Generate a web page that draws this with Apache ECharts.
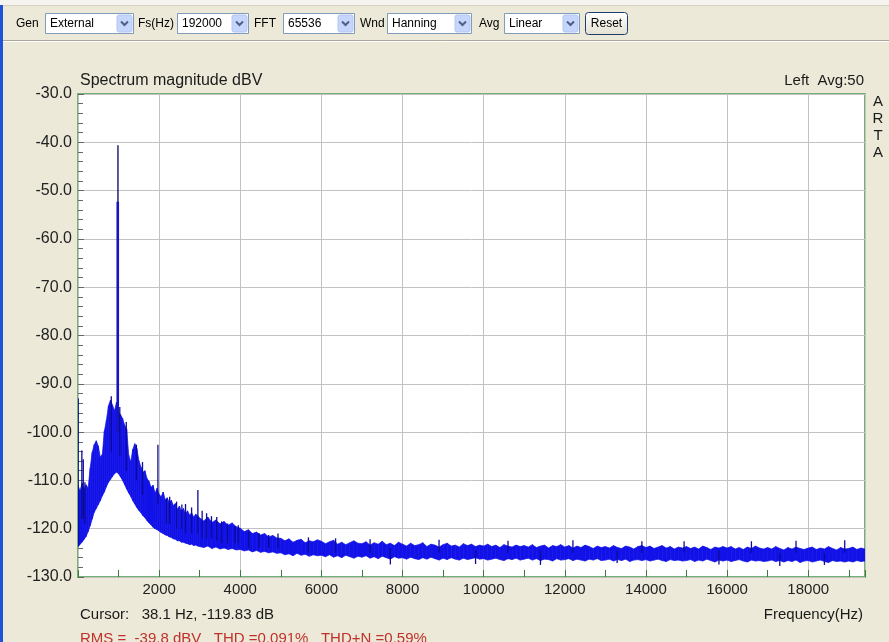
<!DOCTYPE html>
<html>
<head>
<meta charset="utf-8">
<script src="https://cdn.jsdelivr.net/npm/echarts@6/dist/echarts.min.js"></script>
<style>
html,body{margin:0;padding:0;background:#ece9d8;overflow:hidden;}
#chart{width:889px;height:642px;}
</style>
</head>
<body>
<div id="chart"></div>
<script>
// ---------------- DATA ----------------
const xTickLabels = ['2000','4000','6000','8000','10000','12000','14000','16000','18000'];
const yTickLabels = ['-130.0','-120.0','-110.0','-100.0','-90.0','-80.0','-70.0','-60.0','-50.0','-40.0','-30.0'];

// noise band: frequency (Hz), upper and lower edge (dBV)
const bandFreq = [
  0,50,100,150,200,250,300,350,400,450,500,550,600,650,700,750,800,850,900,950,
  1000,1050,1100,1150,1200,1250,1300,1350,1400,1450,1500,1550,1600,1650,1700,1750,1800,1850,1900,1950,
  2000,2050,2100,2150,2200,2250,2300,2350,2400,2450,2500,2550,2600,2650,2700,2750,2800,2850,2900,2950,
  3000,3100,3200,3300,3400,3500,3600,3700,3800,3900,
  4000,4100,4200,4300,4400,4500,4600,4700,4800,4900,
  5000,5100,5200,5300,5400,5500,5600,5700,5800,5900,
  6000,6100,6200,6300,6400,6500,6600,6700,6800,6900,
  7000,7100,7200,7300,7400,7500,7600,7700,7800,7900,
  8000,8100,8200,8300,8400,8500,8600,8700,8800,8900,
  9000,9100,9200,9300,9400,9500,9600,9700,9800,9900,
  10000,10100,10200,10300,10400,10500,10600,10700,10800,10900,
  11000,11100,11200,11300,11400,11500,11600,11700,11800,11900,
  12000,12100,12200,12300,12400,12500,12600,12700,12800,12900,
  13000,13100,13200,13300,13400,13500,13600,13700,13800,13900,
  14000,14100,14200,14300,14400,14500,14600,14700,14800,14900,
  15000,15100,15200,15300,15400,15500,15600,15700,15800,15900,
  16000,16100,16200,16300,16400,16500,16600,16700,16800,16900,
  17000,17100,17200,17300,17400,17500,17600,17700,17800,17900,
  18000,18100,18200,18300,18400,18500,18600,18700,18800,18900,
  19000,19100,19200,19300,19400
];
const bandHigh = [
  -111.0,-112.2,-110.6,-111.8,-110.9,-111.6,-107.5,-104.2,-102.6,-101.8,-102.9,-105.2,-104.6,-99.8,-97.6,-94.6,-93.4,-94.4,-95.6,-93.8,
  -95.8,-96.4,-97.2,-98.6,-99.4,-104.8,-106.2,-103.6,-102.4,-103.4,-105.9,-107.2,-108.3,-108.0,-109.6,-110.2,-111.4,-111.0,-112.6,-111.6,
  -112.9,-113.4,-112.4,-114.0,-113.6,-114.6,-114.1,-115.2,-114.8,-116.0,-115.3,-116.4,-115.8,-116.9,-116.3,-117.2,-116.7,-117.6,-117.0,-117.3,
  -117.8,-118.4,-117.6,-118.7,-118.2,-119.0,-118.5,-119.3,-118.8,-119.6,
  -119.9,-120.6,-120.2,-121.0,-120.7,-121.3,-121.0,-121.7,-121.4,-121.9,
  -122.0,-122.5,-122.1,-122.8,-122.4,-122.2,-122.9,-122.5,-122.7,-122.3,
  -122.6,-123.1,-122.7,-122.4,-123.2,-122.8,-123.3,-122.9,-122.5,-123.0,
  -123.1,-122.7,-123.4,-122.9,-123.2,-122.6,-123.3,-123.0,-123.5,-122.8,
  -123.2,-123.6,-123.0,-123.5,-123.3,-122.9,-123.7,-123.2,-123.4,-123.8,
  -123.3,-123.0,-123.6,-123.4,-123.8,-123.1,-123.5,-123.2,-123.7,-123.4,
  -123.6,-123.2,-123.7,-123.4,-123.9,-123.3,-123.6,-123.8,-123.4,-123.7,
  -123.5,-123.8,-123.3,-123.9,-123.6,-123.4,-124.0,-123.5,-123.7,-123.3,
  -123.8,-123.5,-124.0,-123.6,-123.9,-123.4,-123.7,-124.1,-123.6,-123.9,
  -123.7,-124.0,-123.5,-123.9,-124.1,-123.6,-123.8,-124.2,-123.7,-123.5,
  -123.9,-123.6,-124.1,-123.8,-123.5,-124.0,-123.7,-124.2,-123.8,-124.0,
  -123.7,-124.1,-123.8,-124.2,-123.6,-123.9,-124.3,-123.8,-124.0,-123.7,
  -124.0,-123.7,-124.2,-123.9,-124.3,-123.8,-124.1,-123.6,-124.0,-124.2,
  -123.9,-124.2,-123.7,-124.1,-124.4,-123.9,-124.2,-123.8,-124.1,-124.3,
  -124.0,-123.8,-124.3,-124.0,-124.2,-123.7,-124.1,-124.4,-123.9,-124.2,
  -124.1,-123.8,-124.3,-124.0,-124.2
];
const bandLow = [
  -123.8,-123.2,-122.8,-122.2,-121.6,-120.6,-119.4,-118.0,-116.6,-115.8,-115.0,-114.2,-113.2,-112.4,-111.3,-110.4,-109.8,-109.2,-108.6,-108.3,
  -108.6,-109.3,-110.0,-110.9,-111.8,-112.6,-113.3,-114.2,-114.9,-115.6,-116.2,-116.7,-117.3,-117.7,-118.3,-118.8,-119.2,-119.7,-120.0,-120.2,
  -120.5,-120.8,-121.0,-121.3,-121.4,-121.7,-121.8,-122.1,-122.2,-122.5,-122.5,-122.8,-122.8,-123.0,-123.1,-123.3,-123.2,-123.5,-123.4,-123.6,
  -123.7,-123.9,-123.6,-124.1,-123.8,-124.2,-124.0,-124.3,-124.1,-124.4,
  -124.3,-124.6,-124.4,-124.8,-124.5,-124.9,-124.7,-125.0,-124.8,-125.1,
  -125.0,-125.4,-125.2,-125.6,-125.1,-125.5,-125.3,-125.7,-125.4,-125.6,
  -125.5,-125.8,-125.4,-125.9,-125.6,-126.0,-125.5,-125.8,-126.1,-125.7,
  -125.9,-125.6,-126.1,-125.8,-126.2,-125.7,-126.0,-126.3,-125.8,-126.1,
  -126.0,-126.3,-125.9,-126.2,-126.4,-126.0,-126.3,-125.9,-126.2,-126.5,
  -126.1,-126.4,-126.0,-126.3,-126.5,-126.1,-126.4,-126.2,-126.0,-126.3,
  -126.2,-126.5,-126.3,-126.1,-126.4,-126.6,-126.2,-126.4,-126.1,-126.5,
  -126.3,-126.1,-126.5,-126.2,-126.6,-126.3,-126.4,-126.7,-126.2,-126.5,
  -126.4,-126.2,-126.6,-126.3,-126.5,-126.7,-126.3,-126.5,-126.2,-126.6,
  -126.5,-126.3,-126.7,-126.4,-126.6,-126.3,-126.8,-126.5,-126.4,-126.6,
  -126.4,-126.7,-126.5,-126.3,-126.6,-126.8,-126.4,-126.6,-126.5,-126.7,
  -126.6,-126.4,-126.8,-126.5,-126.7,-126.3,-126.6,-126.9,-126.5,-126.7,
  -126.5,-126.8,-126.6,-126.4,-126.7,-126.9,-126.5,-126.7,-126.6,-126.8,
  -126.7,-126.5,-126.8,-126.6,-126.9,-126.6,-126.8,-126.5,-127.0,-126.7,
  -126.6,-126.9,-126.7,-126.5,-126.8,-127.0,-126.6,-126.8,-126.7,-126.9,
  -126.7,-126.9,-126.6,-126.8,-126.7
];

// narrow spectral lines sticking out of the band: frequency, tip, base (dBV)
const spikeFreq = [5,95,130,170,820,1030,1190,1440,1590,1970,2180,2260,2430,2560,2650,2800,2955,3060,3170,3290,3420,3540,3690,3870,3950,4210,4460,4700,4930,5680,6350,7200,7700,8900,9800,10600,11400,12200,13290,13900,14940,15800,16600,17300,17700,18400,18900];
const spikeTip  = [-93.0,-103.8,-105.6,-110.4,-92.6,-94.8,-97.9,-102.6,-106.2,-102.6,-113.9,-113.4,-114.4,-115.0,-114.9,-115.6,-112.0,-116.3,-116.8,-117.4,-117.6,-118.5,-118.9,-119.5,-119.3,-120.4,-120.9,-121.3,-121.0,-121.8,-122.0,-122.2,-127.4,-122.3,-127.3,-122.5,-127.5,-122.4,-127.1,-122.6,-122.6,-127.4,-122.6,-127.7,-122.5,-127.5,-122.4];
const spikeBase = [-123.6,-118.0,-118.0,-119.0,-104.0,-105.0,-108.0,-110.0,-113.0,-115.0,-119.0,-119.0,-120.0,-120.0,-121.0,-121.0,-121.0,-122.0,-122.0,-122.0,-122.5,-123.0,-123.0,-123.0,-123.0,-124.0,-124.0,-124.0,-124.0,-125.0,-125.0,-125.0,-124.0,-125.0,-124.5,-125.0,-124.5,-125.0,-124.5,-125.0,-125.0,-124.5,-125.0,-125.0,-125.0,-125.0,-125.0];

// fundamental tone (two adjacent FFT bins)
const fundFreq = [985, 980];
const fundTip  = [-40.6, -52.3];
const fundBase = [-100.0, -100.0];

// ---------------- CHART ----------------
const FONT = "'Liberation Sans', Arial, sans-serif";
const chart = echarts.init(document.getElementById('chart'), null, {renderer: 'canvas'});

const bandData = [];
for (let i = 0; i < bandFreq.length - 1; i++) {
  bandData.push([bandFreq[i], bandLow[i], bandHigh[i], bandFreq[i+1], bandLow[i+1], bandHigh[i+1]]);
}
const spikeData = spikeFreq.map((f, i) => [f, spikeTip[i], spikeBase[i]]);
const fundData = fundFreq.map((f, i) => [f, fundTip[i], fundBase[i], i]);

function renderBand(params, api) {
  const a = api.coord([api.value(0), api.value(2)]);
  const b = api.coord([api.value(3), api.value(5)]);
  const c = api.coord([api.value(3), api.value(4)]);
  const d = api.coord([api.value(0), api.value(1)]);
  return {type: 'polygon', shape: {points: [a, b, c, d]},
          style: {fill: '#1212e8', stroke: '#1212e8', lineWidth: 0.7}};
}
function renderSpike(params, api) {
  const p = api.coord([api.value(0), api.value(1)]);
  const q = api.coord([api.value(0), api.value(2)]);
  return {type: 'line', shape: {x1: p[0], y1: p[1], x2: q[0], y2: q[1]},
          style: {stroke: '#0c0c96', lineWidth: 1.3}};
}
function renderFund(params, api) {
  const p = api.coord([api.value(0), api.value(1)]);
  const q = api.coord([api.value(0), api.value(2)]);
  const thick = api.value(3) === 1;
  return {type: 'line', shape: {x1: p[0], y1: p[1], x2: q[0], y2: q[1]},
          style: {stroke: thick ? '#1414c0' : '#14146e', lineWidth: thick ? 2.6 : 1.4}};
}

// toolbar layout (UI chrome, not data)
const toolbar = [
  {kind: 'label', text: 'Gen', x: 16},
  {kind: 'combo', text: 'External', x: 45, w: 88},
  {kind: 'label', text: 'Fs(Hz)', x: 138},
  {kind: 'combo', text: '192000', x: 177, w: 71},
  {kind: 'label', text: 'FFT', x: 254},
  {kind: 'combo', text: '65536', x: 283, w: 71},
  {kind: 'label', text: 'Wnd', x: 360},
  {kind: 'combo', text: 'Hanning', x: 387, w: 84},
  {kind: 'label', text: 'Avg', x: 479},
  {kind: 'combo', text: 'Linear', x: 504, w: 75},
  {kind: 'button', text: 'Reset', x: 585, w: 42}
];
const gfx = [
  {type: 'rect', shape: {x: 0, y: 0, width: 889, height: 41}, style: {fill: '#ece9d8'}, z: -10},
  {type: 'rect', shape: {x: 0, y: 0, width: 889, height: 5}, style: {fill: '#f5f4ee'}, z: -9},
  {type: 'line', shape: {x1: 0, y1: 5.5, x2: 889, y2: 5.5}, style: {stroke: '#d6d2c2', lineWidth: 1}, z: -9},
  {type: 'line', shape: {x1: 0, y1: 40.5, x2: 889, y2: 40.5}, style: {stroke: '#aca899', lineWidth: 1}, z: -9},
  {type: 'line', shape: {x1: 0, y1: 41.5, x2: 889, y2: 41.5}, style: {stroke: '#ffffff', lineWidth: 1}, z: -9},
  {type: 'rect', shape: {x: 0, y: 5, width: 3, height: 637}, style: {fill: '#1f52d8'}, z: 10}
];
toolbar.forEach(t => {
  if (t.kind === 'label') {
    gfx.push({type: 'text', x: t.x, y: 24, style: {text: t.text, font: '12px ' + FONT, fill: '#000', verticalAlign: 'middle', align: 'left'}});
  } else if (t.kind === 'combo') {
    gfx.push({type: 'rect', shape: {x: t.x + 0.5, y: 13.5, width: t.w, height: 20}, style: {fill: '#fff', stroke: '#7f9db9', lineWidth: 1}});
    const bx = t.x + t.w - 16;
    gfx.push({type: 'rect', shape: {x: bx, y: 15, width: 15, height: 17, r: 2}, style: {fill: '#c6d5fb', stroke: '#b3c6f2', lineWidth: 1}});
    gfx.push({type: 'polyline', shape: {points: [[bx + 4, 21.5], [bx + 7.5, 25], [bx + 11, 21.5]]}, style: {stroke: '#4d6185', lineWidth: 2, fill: null}});
    gfx.push({type: 'text', x: t.x + 5, y: 24, style: {text: t.text, font: '12px ' + FONT, fill: '#000', verticalAlign: 'middle', align: 'left'}});
  } else {
    gfx.push({type: 'rect', shape: {x: t.x + 0.5, y: 12.5, width: t.w, height: 22, r: 3},
      style: {fill: new echarts.graphic.LinearGradient(0, 0, 0, 1, [{offset: 0, color: '#ffffff'}, {offset: 1, color: '#e3e0d2'}]), stroke: '#1c3f6e', lineWidth: 1}});
    gfx.push({type: 'text', x: t.x + t.w / 2 + 0.5, y: 24, style: {text: t.text, font: '12px ' + FONT, fill: '#000', verticalAlign: 'middle', align: 'center'}});
  }
});
// chart titles and status texts
gfx.push({type: 'text', x: 80, y: 81, style: {text: 'Spectrum magnitude dBV', font: '16px ' + FONT, fill: '#1a1a1a', verticalAlign: 'middle', align: 'left'}});
gfx.push({type: 'text', x: 864, y: 81, style: {text: 'Left  Avg:50', font: '15px ' + FONT, fill: '#1a1a1a', verticalAlign: 'middle', align: 'right'}});
gfx.push({type: 'text', x: 878, y: 127, style: {text: 'A\nR\nT\nA', font: '15px ' + FONT, fill: '#1a1a1a', lineHeight: 17, verticalAlign: 'middle', align: 'center'}});
gfx.push({type: 'text', x: 80, y: 615, style: {text: 'Cursor:   38.1 Hz, -119.83 dB', font: '15px ' + FONT, fill: '#1a1a1a', verticalAlign: 'middle', align: 'left'}});
gfx.push({type: 'text', x: 863, y: 615, style: {text: 'Frequency(Hz)', font: '15px ' + FONT, fill: '#1a1a1a', verticalAlign: 'middle', align: 'right'}});
gfx.push({type: 'text', x: 80, y: 639, style: {text: 'RMS =  -39.8 dBV   THD =0.091%   THD+N =0.59%', font: '15px ' + FONT, fill: '#c0312b', verticalAlign: 'middle', align: 'left'}});

const option = {
  animation: false,
  backgroundColor: '#ece9d8',
  textStyle: {fontFamily: FONT},
  grid: {left: 78, right: 24, top: 94, bottom: 65, show: true, backgroundColor: '#ffffff',
         borderColor: '#74b274', borderWidth: 2, containLabel: false, outerBoundsMode: 'none'},
  xAxis: {
    type: 'value', min: 0, max: 19400, interval: 1000,
    axisLine: {show: false},
    axisTick: {show: true, inside: true, length: 7, lineStyle: {color: '#3f7a3f', width: 1}},
    axisLabel: {show: true, margin: 5, fontSize: 15, color: '#222', fontFamily: FONT,
      formatter: v => (xTickLabels.indexOf(String(v)) >= 0 ? String(v) : ''),
      showMinLabel: true, showMaxLabel: true, hideOverlap: false},
    splitLine: {show: true, lineStyle: {color: ['#c2c2c2', 'rgba(0,0,0,0)'], width: 1}}
  },
  yAxis: {
    type: 'value', min: -130, max: -30, interval: 10,
    axisLine: {show: false},
    axisTick: {show: true, inside: true, length: 6, lineStyle: {color: '#666'}},
    minorTick: {show: true, splitNumber: 5, length: 5, lineStyle: {color: '#666'}},
    axisLabel: {show: true, margin: 6, fontSize: 16, color: '#222', fontFamily: FONT,
      formatter: v => yTickLabels[Math.round((v + 130) / 10)]},
    splitLine: {show: true, lineStyle: {color: '#c2c2c2', width: 1}}
  },
  series: [
    {type: 'custom', name: 'band', coordinateSystem: 'cartesian2d', renderItem: renderBand,
     data: bandData, clip: true, silent: true, z: 3, encode: {x: [0, 3], y: [1, 2, 4, 5]}},
    {type: 'custom', name: 'spikes', coordinateSystem: 'cartesian2d', renderItem: renderSpike,
     data: spikeData, clip: true, silent: true, z: 4, encode: {x: 0, y: [1, 2]}},
    {type: 'custom', name: 'fundamental', coordinateSystem: 'cartesian2d', renderItem: renderFund,
     data: fundData, clip: true, silent: true, z: 5, encode: {x: 0, y: [1, 2]}}
  ],
  graphic: gfx
};
chart.setOption(option);
</script>
</body>
</html>
